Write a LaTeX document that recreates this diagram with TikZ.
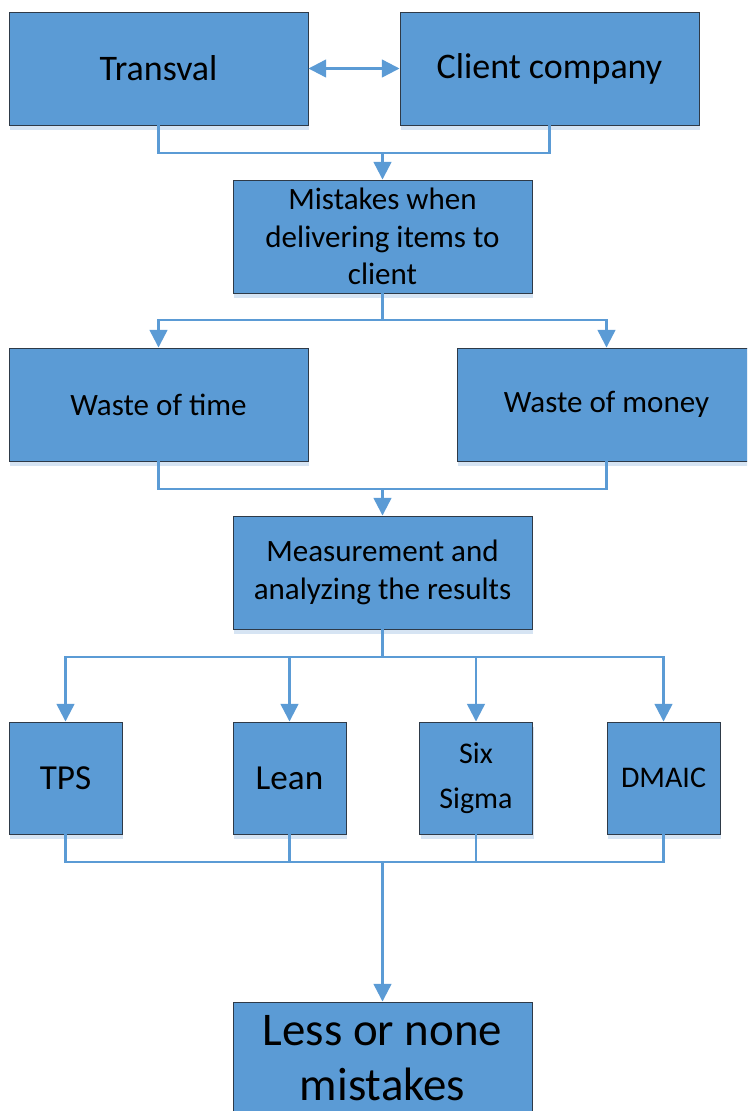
\documentclass[tikz,border=0pt]{standalone}
\usepackage{fontspec}
\setmainfont{Carlito}
\usetikzlibrary{arrows.meta}
\definecolor{BoxBlue}{RGB}{91,155,213}
\definecolor{ShadeBlue}{RGB}{214,228,243}
\definecolor{EdgeDark}{RGB}{46,58,72}
\definecolor{LinkBlue}{RGB}{91,155,213}

\tikzset{
  box/.style={draw=EdgeDark, line width=0.8pt, fill=BoxBlue, inner sep=0pt, align=center,
    minimum width=8.97cm, minimum height=3.39cm,
    preaction={fill=ShadeBlue, transform canvas={xshift=0.03cm, yshift=-0.16cm}}},
  smallbox/.style={box, minimum width=3.39cm, minimum height=3.36cm},
  link/.style={draw=LinkBlue, line width=2pt},
  arr/.style={link, -{Triangle[width=15pt, length=15pt]}},
  bigtxt/.style={font=\fontsize{30.7}{37}\selectfont},
  midtxt/.style={font=\fontsize{26.5}{32}\selectfont},
}

\begin{document}
\begin{tikzpicture}[x=0.03cm, y=-0.03cm]
  \useasboundingbox (0,0) rectangle (747,1111);
  \clip (0,0) rectangle (747,1111);

  % boxes
  \node[box, bigtxt] (trans) at (158.5,68.5) {Transval};
  \node[box, bigtxt] (client) at (549.5,68.5) {Client company};
  \node[box, midtxt] (mist) at (382.5,236.5) {Mistakes when\\delivering items to\\client};
  \node[box, midtxt] (wtime) at (158.5,404.5) {Waste of time};
  \node[box, midtxt] (wmoney) at (606.5,404.5) {Waste of money};
  \node[box, midtxt] (meas) at (382.5,572.5) {Measurement and\\analyzing the results};
  \node[smallbox, font=\fontsize{30}{36}\selectfont] (tps) at (65.5,778) {TPS};
  \node[smallbox, font=\fontsize{30}{36}\selectfont] (lean) at (289.5,778) {Lean};
  \node[smallbox, font=\fontsize{25.6}{38}\selectfont] (six) at (476,778) {Six\\Sigma};
  \node[smallbox, font=\fontsize{25.6}{36}\selectfont] (dmaic) at (663.5,778) {DMAIC};
  \node[box, font=\fontsize{40}{47}\selectfont] (less) at (382.5,1058.5) {Less or none\\mistakes};

  % junctions
  \coordinate (j1) at (382.5,153);
  \coordinate (j2) at (382.5,320);
  \coordinate (j3) at (382.5,489);
  \coordinate (j4) at (382.5,657);
  \coordinate (j5) at (382.5,862);

  \draw[link, {Triangle[width=15pt, length=15pt]}-{Triangle[width=15pt, length=15pt]}] (trans.east) -- (client.west);

  \draw[link] (trans.south) |- (j1);
  \draw[link] (client.south) |- (j1);
  \draw[arr] (j1) -- (mist.north);

  \draw[link] (mist.south) -- (j2);
  \draw[arr] (j2) -| (wtime.north);
  \draw[arr] (j2) -| (wmoney.north);

  \draw[link] (wtime.south) |- (j3);
  \draw[link] (wmoney.south) |- (j3);
  \draw[arr] (j3) -- (meas.north);

  \draw[link] (meas.south) -- (j4);
  \foreach \n in {tps, lean, six, dmaic}
    \draw[arr] (j4) -| (\n.north);

  \foreach \n in {tps, lean, six, dmaic}
    \draw[link] (\n.south) |- (j5);
  \draw[arr] (j5) -- (less.north);
\end{tikzpicture}
\end{document}
